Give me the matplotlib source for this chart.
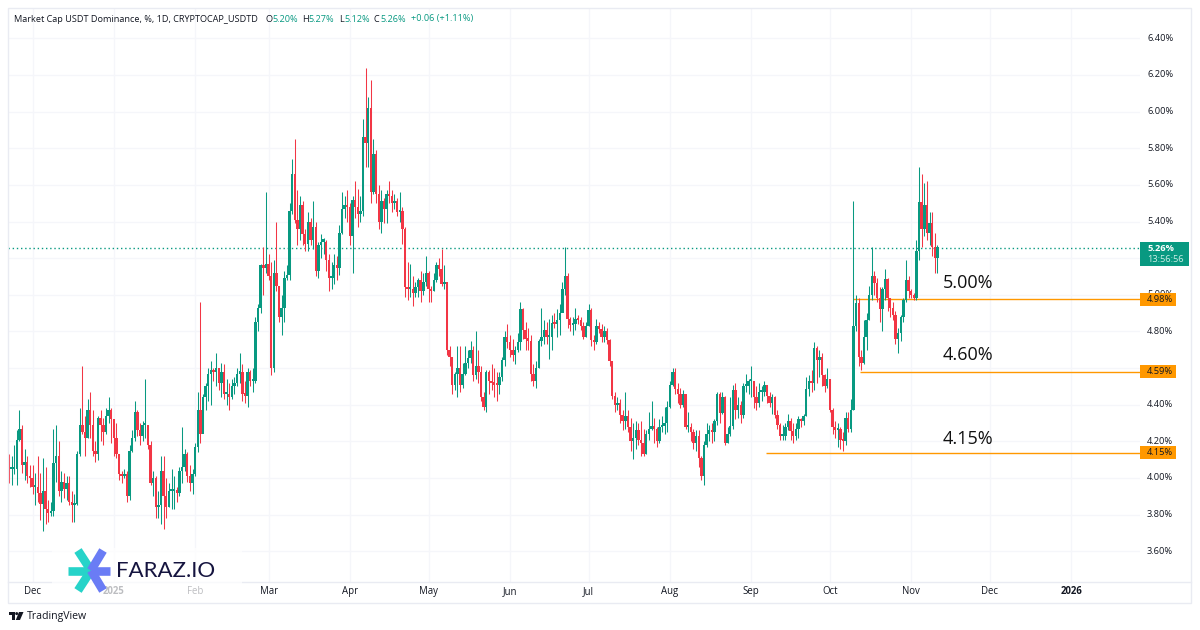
#!/usr/bin/env python3
"""USDT dominance daily candles with support levels, TradingView look."""

import matplotlib
matplotlib.use("Agg")
import matplotlib.pyplot as plt
import numpy as np
from matplotlib.patches import Circle, Polygon, Rectangle

UP = "#089981"
DOWN = "#f23645"
ORANGE = "#ff9800"
GRID = "#f5f6fa"
FRAME = "#e9ebf2"
INK = "#131722"
FONT = "Open Sans"

first_open = 4.08
closes = [
    4.05, 4.05, 4.05, 4.21, 4.27, 4.07, 4.09, 4.01, 4.00, 3.95,
    3.95, 3.92, 3.86, 3.93, 3.83, 3.81, 3.82, 4.08, 4.12, 3.93,
    3.98, 3.94, 3.97, 3.87, 3.85, 3.86, 4.13, 4.29, 4.25, 4.22,
    4.37, 4.29, 4.15, 4.13, 4.33, 4.29, 4.25, 4.34, 4.37, 4.32,
    4.22, 4.13, 4.02, 4.01, 4.02, 3.90, 4.15, 4.22, 4.36, 4.26,
    4.23, 4.29, 4.29, 4.18, 3.97, 4.00, 3.84, 3.85, 4.04, 3.90,
    3.84, 3.93, 3.93, 3.93, 3.92, 4.04, 4.06, 4.13, 4.01, 3.97,
    4.02, 4.17, 4.37, 4.24, 4.44, 4.50, 4.57, 4.59, 4.58, 4.60,
    4.52, 4.58, 4.46, 4.46, 4.44, 4.50, 4.52, 4.57, 4.58, 4.46,
    4.45, 4.58, 4.53, 4.53, 4.85, 4.93, 5.16, 5.145, 5.17, 5.10,
    4.60, 5.12, 5.05, 4.88, 4.93, 5.09, 5.11, 5.46, 5.66, 5.41,
    5.36, 5.49, 5.33, 5.28, 5.40, 5.30, 5.37, 5.13, 5.27, 5.29,
    5.29, 5.19, 5.09, 5.09, 5.16, 5.145, 5.34, 5.47, 5.49, 5.48,
    5.32, 5.52, 5.48, 5.44, 5.46, 5.86, 5.83, 6.02, 5.56, 5.77,
    5.55, 5.40, 5.51, 5.47, 5.55, 5.54, 5.50, 5.51, 5.45, 5.46,
    5.36, 5.04, 5.03, 5.03, 5.01, 5.04, 5.08, 5.02, 5.07, 5.12,
    5.03, 5.02, 5.08, 5.16, 5.14, 5.06, 5.07, 4.70, 4.66, 4.51,
    4.57, 4.60, 4.51, 4.57, 4.63, 4.655, 4.70, 4.56, 4.61, 4.58,
    4.44, 4.39, 4.58, 4.53, 4.52, 4.51, 4.505, 4.55, 4.645, 4.77,
    4.74, 4.70, 4.67, 4.70, 4.74, 4.92, 4.81, 4.76, 4.75, 4.565,
    4.53, 4.60, 4.75, 4.77, 4.81, 4.77, 4.77, 4.845, 4.84, 4.86,
    4.90, 5.03, 5.10, 4.87, 4.835, 4.84, 4.87, 4.86, 4.83, 4.77,
    4.83, 4.915, 4.755, 4.74, 4.83, 4.815, 4.77, 4.80, 4.755, 4.64,
    4.45, 4.40, 4.41, 4.345, 4.31, 4.34, 4.28, 4.20, 4.22, 4.26,
    4.21, 4.19, 4.13, 4.24, 4.27, 4.28, 4.27, 4.20, 4.28, 4.285,
    4.30, 4.39, 4.51, 4.58, 4.485, 4.46, 4.40, 4.46, 4.28, 4.28,
    4.25, 4.19, 4.23, 4.11, 4.01, 4.18, 4.24, 4.26, 4.25, 4.31,
    4.46, 4.355, 4.44, 4.19, 4.24, 4.285, 4.48, 4.37, 4.40, 4.345,
    4.50, 4.50, 4.53, 4.53, 4.44, 4.41, 4.47, 4.47, 4.51, 4.45,
    4.41, 4.44, 4.345, 4.29, 4.23, 4.23, 4.28, 4.31, 4.255, 4.23,
    4.27, 4.32, 4.31, 4.34, 4.485, 4.53, 4.52, 4.71, 4.645, 4.66,
    4.56, 4.50, 4.54, 4.37, 4.28, 4.26, 4.27, 4.205, 4.20, 4.33,
    4.27, 4.37, 4.83, 4.955, 4.66, 4.63, 4.77, 4.86, 5.00, 5.10,
    5.065, 4.98, 4.92, 5.03, 5.085, 4.98, 4.93, 4.89, 4.76, 4.79,
    4.88, 4.97, 5.08, 5.02, 5.00, 4.98, 5.24, 5.505, 5.36, 5.49,
    5.335, 5.39, 5.26, 5.20, 5.26,
]
highs = [
    4.13, 4.12, 4.18, 4.26, 4.37, 4.29, 4.16, 4.12, 4.07, 4.07,
    4.03, 4.12, 4.03, 4.11, 4.06, 3.88, 3.87, 4.27, 4.29, 4.20,
    4.04, 4.03, 4.01, 4.01, 3.93, 3.91, 4.15, 4.38, 4.61, 4.34,
    4.43, 4.47, 4.37, 4.20, 4.34, 4.37, 4.33, 4.38, 4.44, 4.38,
    4.30, 4.30, 4.13, 4.04, 4.05, 4.04, 4.18, 4.26, 4.42, 4.37,
    4.30, 4.31, 4.54, 4.29, 4.20, 4.04, 4.01, 3.93, 4.12, 4.12,
    4.00, 3.97, 4.05, 4.01, 3.95, 4.06, 4.28, 4.16, 4.14, 4.07,
    4.05, 4.19, 4.47, 4.96, 4.46, 4.52, 4.60, 4.64, 4.60, 4.68,
    4.60, 4.63, 4.62, 4.54, 4.52, 4.54, 4.55, 4.60, 4.68, 4.62,
    4.53, 4.60, 4.59, 4.60, 4.88, 4.95, 5.17, 5.26, 5.56, 5.22,
    5.18, 5.19, 5.40, 5.05, 5.00, 5.13, 5.16, 5.50, 5.74, 5.85,
    5.57, 5.54, 5.51, 5.36, 5.45, 5.42, 5.51, 5.40, 5.29, 5.33,
    5.31, 5.30, 5.22, 5.18, 5.22, 5.21, 5.38, 5.56, 5.54, 5.57,
    5.50, 5.54, 5.62, 5.58, 5.54, 5.96, 6.24, 6.08, 6.17, 5.85,
    5.79, 5.60, 5.57, 5.53, 5.57, 5.62, 5.57, 5.55, 5.53, 5.56,
    5.48, 5.37, 5.18, 5.17, 5.10, 5.07, 5.09, 5.13, 5.12, 5.21,
    5.13, 5.05, 5.12, 5.18, 5.20, 5.25, 5.16, 5.07, 4.72, 4.66,
    4.58, 4.72, 4.72, 4.63, 4.72, 4.70, 4.75, 4.72, 4.80, 4.70,
    4.61, 4.47, 4.59, 4.59, 4.62, 4.60, 4.58, 4.58, 4.66, 4.80,
    4.84, 4.78, 4.76, 4.72, 4.79, 4.96, 4.93, 4.85, 4.82, 4.78,
    4.62, 4.64, 4.76, 4.93, 4.86, 4.85, 4.87, 4.89, 4.90, 4.92,
    4.95, 5.07, 5.26, 5.12, 4.88, 4.88, 4.93, 4.89, 4.88, 4.85,
    4.85, 4.95, 4.93, 4.78, 4.87, 4.85, 4.84, 4.83, 4.82, 4.76,
    4.64, 4.47, 4.44, 4.43, 4.37, 4.47, 4.37, 4.33, 4.30, 4.31,
    4.30, 4.31, 4.27, 4.26, 4.36, 4.42, 4.33, 4.28, 4.32, 4.34,
    4.39, 4.42, 4.53, 4.60, 4.60, 4.52, 4.49, 4.48, 4.45, 4.36,
    4.30, 4.27, 4.26, 4.26, 4.12, 4.20, 4.30, 4.29, 4.30, 4.32,
    4.47, 4.47, 4.47, 4.45, 4.28, 4.44, 4.51, 4.52, 4.44, 4.42,
    4.52, 4.57, 4.54, 4.61, 4.53, 4.50, 4.52, 4.50, 4.53, 4.51,
    4.47, 4.46, 4.45, 4.37, 4.30, 4.29, 4.30, 4.35, 4.33, 4.30,
    4.30, 4.34, 4.33, 4.35, 4.55, 4.56, 4.59, 4.74, 4.72, 4.70,
    4.68, 4.57, 4.60, 4.54, 4.38, 4.31, 4.30, 4.28, 4.25, 4.36,
    4.36, 4.43, 5.51, 5.00, 4.98, 4.70, 4.86, 4.90, 5.05, 5.26,
    5.13, 5.09, 5.04, 5.04, 5.14, 5.09, 4.98, 4.96, 4.91, 4.82,
    4.89, 4.98, 5.19, 5.10, 5.03, 5.01, 5.30, 5.70, 5.66, 5.61,
    5.62, 5.45, 5.45, 5.34, 5.27,
]
lows = [
    3.97, 3.96, 4.02, 3.96, 4.20, 4.03, 3.99, 3.97, 3.95, 3.91,
    3.85, 3.87, 3.77, 3.71, 3.75, 3.76, 3.79, 3.79, 3.98, 3.90,
    3.87, 3.89, 3.88, 3.85, 3.76, 3.76, 3.85, 4.12, 4.24, 4.12,
    4.22, 4.22, 4.12, 4.09, 4.10, 4.20, 4.18, 4.24, 4.30, 4.19,
    4.12, 4.11, 3.99, 3.97, 4.00, 3.87, 3.88, 4.14, 4.20, 4.23,
    4.18, 4.20, 4.22, 4.16, 3.96, 3.90, 3.78, 3.78, 3.75, 3.72,
    3.78, 3.84, 3.83, 3.83, 3.87, 3.90, 3.97, 4.04, 3.98, 3.93,
    3.91, 4.01, 4.14, 4.19, 4.26, 4.37, 4.42, 4.40, 4.53, 4.50,
    4.48, 4.44, 4.43, 4.40, 4.37, 4.43, 4.46, 4.50, 4.52, 4.42,
    4.41, 4.39, 4.50, 4.47, 4.52, 4.80, 4.90, 5.00, 5.12, 5.08,
    4.56, 4.58, 5.02, 4.85, 4.78, 4.85, 5.08, 5.08, 5.44, 5.39,
    5.27, 5.30, 5.27, 5.24, 5.24, 5.27, 5.25, 5.10, 5.09, 5.20,
    5.22, 5.13, 5.02, 5.03, 5.06, 5.08, 5.11, 5.33, 5.42, 5.40,
    5.27, 5.12, 5.42, 5.37, 5.40, 5.43, 5.70, 5.70, 5.50, 5.55,
    5.50, 5.36, 5.34, 5.39, 5.39, 5.50, 5.45, 5.47, 5.43, 5.40,
    5.28, 4.99, 4.97, 4.99, 4.94, 4.99, 4.99, 4.96, 5.00, 5.05,
    4.96, 4.96, 5.02, 5.07, 5.10, 5.05, 5.03, 4.67, 4.61, 4.46,
    4.48, 4.44, 4.47, 4.49, 4.56, 4.60, 4.63, 4.53, 4.54, 4.52,
    4.42, 4.37, 4.36, 4.46, 4.48, 4.44, 4.42, 4.46, 4.53, 4.61,
    4.71, 4.66, 4.64, 4.62, 4.69, 4.70, 4.76, 4.70, 4.70, 4.53,
    4.50, 4.49, 4.60, 4.72, 4.73, 4.73, 4.65, 4.70, 4.82, 4.77,
    4.78, 4.94, 5.00, 4.82, 4.80, 4.78, 4.81, 4.84, 4.81, 4.76,
    4.77, 4.83, 4.72, 4.70, 4.73, 4.79, 4.74, 4.74, 4.73, 4.61,
    4.43, 4.36, 4.37, 4.30, 4.26, 4.27, 4.25, 4.15, 4.105, 4.16,
    4.18, 4.12, 4.12, 4.13, 4.21, 4.26, 4.19, 4.17, 4.19, 4.25,
    4.24, 4.25, 4.38, 4.50, 4.46, 4.41, 4.38, 4.39, 4.27, 4.25,
    4.20, 4.16, 4.15, 4.06, 3.99, 3.96, 4.17, 4.20, 4.19, 4.20,
    4.29, 4.30, 4.35, 4.18, 4.19, 4.23, 4.27, 4.32, 4.33, 4.30,
    4.33, 4.47, 4.46, 4.44, 4.38, 4.37, 4.39, 4.42, 4.45, 4.41,
    4.39, 4.35, 4.33, 4.27, 4.21, 4.21, 4.21, 4.26, 4.21, 4.19,
    4.21, 4.22, 4.28, 4.29, 4.34, 4.45, 4.47, 4.48, 4.52, 4.55,
    4.50, 4.47, 4.49, 4.36, 4.24, 4.22, 4.17, 4.16, 4.15, 4.18,
    4.25, 4.25, 4.37, 4.80, 4.61, 4.59, 4.62, 4.70, 4.86, 4.97,
    5.00, 4.96, 4.85, 4.80, 4.97, 4.91, 4.88, 4.86, 4.73, 4.68,
    4.75, 4.85, 4.96, 4.98, 4.98, 4.97, 4.97, 5.19, 5.26, 5.32,
    5.30, 5.27, 5.21, 5.12, 5.12,
]

last_day = 345  # days after 1 Dec 2024
month_labels = ["Dec", "2025", "Feb", "Mar", "Apr", "May", "Jun", "Jul", "Aug", "Sep", "Oct", "Nov", "Dec", "2026"]
month_days = [0, 31, 62, 90, 121, 151, 182, 212, 243, 274, 304, 335, 365, 396]
price_ticks = [3.6, 3.8, 4.0, 4.2, 4.4, 4.6, 4.8, 5.0, 5.2, 5.4, 5.6, 5.8, 6.0, 6.2, 6.4]
hidden_tick_labels = [4.6, 5.2]  # sit fully behind the badges in the original

level_values = [4.975, 4.581, 4.139]
level_labels = ["4.98%", "4.59%", "4.15%"]
level_starts = [312.8, 315.5, 279.5]
note_labels = ["5.00%", "4.60%", "4.15%"]
note_rows = [283, 355, 439]

last_price = 5.255

W, H = 1200, 630


def _pixel_box(left, top, right, bottom):
    return [left / W, 1 - bottom / H, (right - left) / W, (bottom - top) / H]


def _draw_candles(ax):
    c = np.array(closes)
    o = np.concatenate([[first_open], c[:-1]])
    hi = np.array(highs)
    lo = np.array(lows)
    x = np.arange(last_day - len(c) + 1, last_day + 1)
    colors = np.where(c >= o, UP, DOWN)

    ax.vlines(x, lo, hi, colors=colors, linewidth=0.75, zorder=3)
    ax.bar(x, np.maximum(np.abs(c - o), 0.012), bottom=np.minimum(o, c),
           width=0.92, color=colors, linewidth=0, zorder=4)


def _draw_logo(ov):
    ov.add_patch(Rectangle((52, 548), 190, 50, facecolor="white", alpha=0.72, linewidth=0, zorder=5))
    teal = "#26d3c9"
    blue = "#6a7cf5"
    cx, cy = 91, 570.5
    for dx, dy, col in [(-23, 0, teal), (-13, -20, teal), (-13, 20, teal), (19, 0, blue), (12, -20, blue), (12, 20, blue)]:
        ov.plot([cx, cx + dx], [cy, cy + dy], color=col, lw=6.2, solid_capstyle="butt", zorder=6)
    ov.text(116.5, 571, "FARAZ.IO", fontsize=16, color="#15143f", family="Lato",
            ha="left", va="center", zorder=6)


def _draw_tv_mark(ov):
    ov.add_patch(Polygon([(8.5, 612), (15, 612), (15, 620), (12, 620), (12, 615), (8.5, 615)], color=INK, linewidth=0))
    ov.add_patch(Circle((16.7, 613.6), 1.5, color=INK, linewidth=0))
    ov.add_patch(Polygon([(19, 612), (23.5, 612), (20, 620), (15.8, 620)], color=INK, linewidth=0))
    ov.text(27, 616, "TradingView", fontsize=7.6, color=INK, family=FONT, ha="left", va="center")


def main():
    plt.rcParams["font.family"] = [FONT, "DejaVu Sans"]
    fig = plt.figure(figsize=(12, 6.3), dpi=100, facecolor="white")

    # chart pane: limits chosen so the price and day scales land on the pane pixels
    ax = fig.add_axes(_pixel_box(8, 8, 1140, 582))
    px_per_day = 2.623
    ax.set_xlim((8 - 32.5) / px_per_day, (1140 - 32.5) / px_per_day)
    ax.set_ylim(4 + (478 - 582) / 183.2, 4 + (478 - 8) / 183.2)
    for side in ax.spines.values():
        side.set_visible(False)
    ax.set_xticks(month_days)
    ax.set_yticks(price_ticks)
    ax.tick_params(length=0, labelbottom=False, labelleft=False)
    ax.grid(True, color=GRID, linewidth=1)
    ax.set_axisbelow(True)

    _draw_candles(ax)

    ax.axhline(last_price, color=UP, linewidth=1, linestyle=(0, (1, 2)), zorder=2)
    for value, start in zip(level_values, level_starts):
        ax.hlines(value, start, ax.get_xlim()[1], color=ORANGE, linewidth=1, zorder=2.5)

    # overlay in pixel units for frame, price scale, badges and captions
    ov = fig.add_axes([0, 0, 1, 1], facecolor="none")
    ov.set_xlim(0, W)
    ov.set_ylim(H, 0)
    ov.axis("off")

    ov.add_patch(Rectangle((8, 8), 1183, 595, fill=False, edgecolor=FRAME, linewidth=1))
    ov.plot([8, 1191], [582, 582], color=FRAME, lw=1)

    to_px = lambda v: 478 - (v - 4) * 183.2
    for tick in price_ticks:
        if tick in hidden_tick_labels:
            continue
        ov.text(1147, to_px(tick), f"{tick:.2f}%", fontsize=6.7, color=INK, ha="left", va="center")
    for label, day in zip(month_labels, month_days):
        weight = "bold" if label in ("2025", "2026") else "normal"
        ov.text(32.5 + day * px_per_day, 591.5, label, fontsize=6.9, color=INK, weight=weight, ha="center", va="center")

    ov.add_patch(Rectangle((1140, 242), 49, 24, facecolor=UP, linewidth=0, zorder=7))
    ov.text(1147, 248.5, "5.26%", fontsize=6.7, color="white", weight="bold", ha="left", va="center", zorder=8)
    ov.text(1147, 259, "13:56:56", fontsize=6.7, color="#cdeee6", ha="left", va="center", zorder=8)

    badge_rows = [299.5, 371.5, 452.5]
    for row, label in zip(badge_rows, level_labels):
        ov.add_patch(Rectangle((1140, row - 6.5), 36, 13, facecolor=ORANGE, linewidth=0, zorder=7))
        ov.text(1147, row, label, fontsize=6.7, color=INK, ha="left", va="center", zorder=8)

    for label, row in zip(note_labels, note_rows):
        ov.text(943, row, label, fontsize=13, color="#111111", ha="left", va="center", zorder=8)

    ov.text(14, 19, "Market Cap USDT Dominance, %, 1D, CRYPTOCAP_USDTD", fontsize=6.6, color=INK, ha="left", va="center")
    pieces = [("O", 265, INK), ("5.20%", 272, UP), ("H", 302, INK), ("5.27%", 308, UP),
              ("L", 339, INK), ("5.12%", 344, UP), ("C", 374, INK), ("5.26%", 380, UP),
              ("+0.06 (+1.11%)", 411, UP)]
    for text, left, color in pieces:
        ov.text(left, 19, text, fontsize=6.6, color=color, ha="left", va="center")

    _draw_logo(ov)
    _draw_tv_mark(ov)

    fig.savefig("out.png", dpi=100, facecolor="white")
    plt.close(fig)


if __name__ == "__main__":
    main()
